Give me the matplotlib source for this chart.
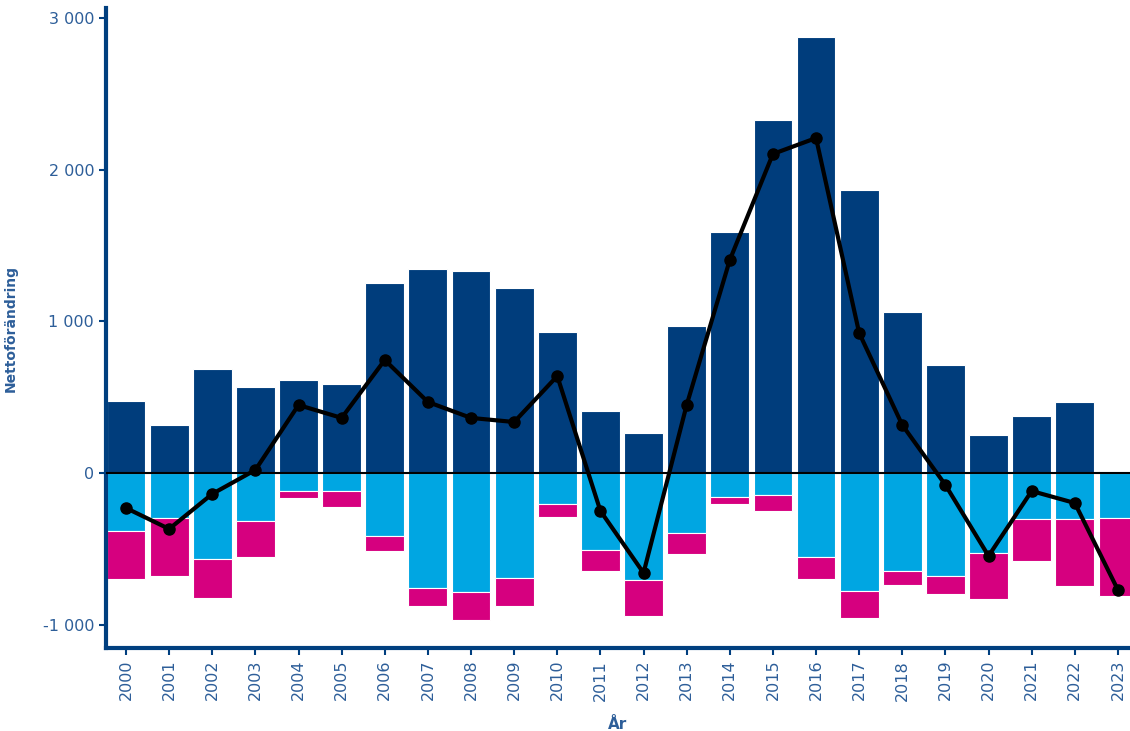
import numpy as np
import matplotlib
matplotlib.use('Agg')
import matplotlib.pyplot as plt
from matplotlib.ticker import FuncFormatter

# ========== Datos ==========
years = list(range(2000, 2024))
inflyttning = [475, 316, 686, 567, 613, 587, 1252, 1345, 1332, 1220, 929, 409,
               264, 969, 1589, 2327, 2874, 1866, 1061, 712, 250, 376, 468, 13]
utflyttning = [-382, -299, -569, -316, -121, -117, -417, -758, -782, -694, -204, -505,
               -703, -396, -156, -145, -556, -776, -646, -679, -529, -305, -305, -297]
ovrigt = [-319, -380, -253, -236, -46, -109, -95, -117, -187, -185, -88, -143,
          -240, -140, -46, -103, -141, -182, -94, -119, -302, -277, -438, -514]
netto = [-231, -369, -138, 20, 448, 363, 745, 468, 363, 336, 639, -250,
         -659, 448, 1404, 2103, 2208, 923, 316, -79, -547, -119, -198, -771]

# ========== Colores ==========
c_dark = '#003d7c'
c_light = '#00a6e2'
c_mag = '#d6007f'
c_axis = '#003f7f'
c_text = '#2d5e99'

fig = plt.figure(figsize=(11.3, 7.31), dpi=100)
ax = fig.add_axes([0.0938, 0.1135, 0.9062, 0.8755])

x = np.arange(len(years))
w = 0.9
ax.bar(x, inflyttning, width=w, color=c_dark, edgecolor='white', linewidth=0.8, zorder=2)
ax.bar(x, utflyttning, width=w, color=c_light, edgecolor='white', linewidth=0.8, zorder=2)
ax.bar(x, ovrigt, width=w, bottom=utflyttning, color=c_mag, edgecolor='white', linewidth=0.8, zorder=2)

ax.axhline(0, color='black', linewidth=1.5, zorder=3)
ax.plot(x, netto, color='black', linewidth=3, marker='o', markersize=8, zorder=4)

# ---------- Ejes ----------
ax.set_xlim(-0.464, 23.28)
ax.set_ylim(-1154, 3065)
ax.set_xticks(x)
ax.set_xticklabels([str(y) for y in years], rotation=90, fontsize=11.5, color=c_text)
ax.set_yticks([-1000, 0, 1000, 2000, 3000])
ax.yaxis.set_major_formatter(FuncFormatter(lambda v, p: f'{int(v):,}'.replace(',', ' ')))
ax.tick_params(axis='y', labelsize=11.5, labelcolor=c_text)
ax.tick_params(axis='both', direction='out', length=5, width=1.5, color=c_axis)

for s in ['top', 'right']:
    ax.spines[s].set_visible(False)
for s in ['left', 'bottom']:
    ax.spines[s].set_color(c_axis)
    ax.spines[s].set_linewidth(3)

ax.set_ylabel('Nettoförändring', fontsize=10, fontweight='bold', color=c_text)
ax.yaxis.set_label_coords(-0.086, 0.5)
ax.set_xlabel('År', fontsize=11, fontweight='bold', color=c_text, labelpad=12)

fig.savefig('out.png', dpi=100)
